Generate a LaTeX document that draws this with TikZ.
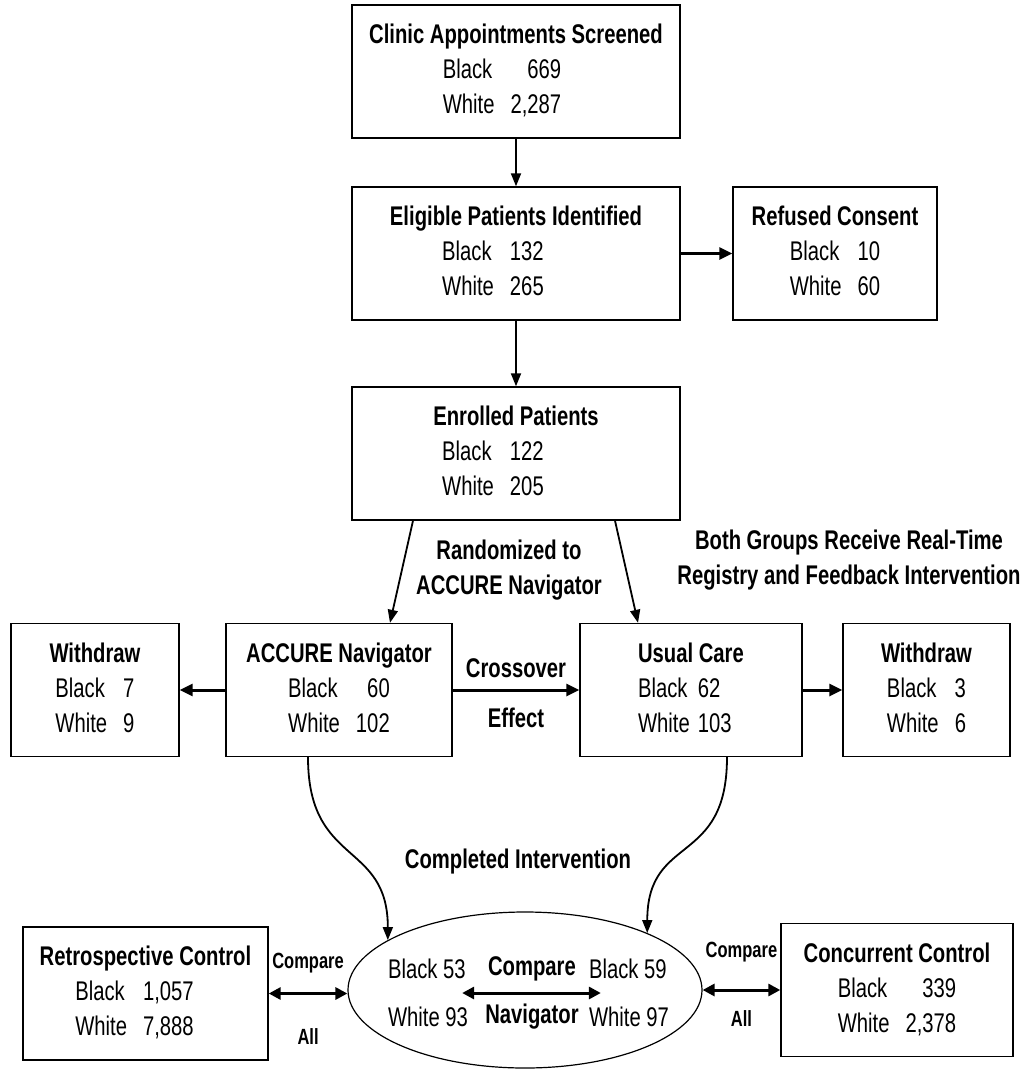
\documentclass[tikz,border=0pt]{standalone}
\usepackage{fontspec}
\setmainfont[FakeStretch=0.75]{Liberation Sans}
\usepackage{tikz}
\usetikzlibrary{arrows.meta,shapes.geometric}
% title line plus a two-row table of counts
\newcommand{\grp}[4][0pt]{\strut\textbf{#2}\\\hspace*{#1}\begin{tabular}[t]{@{}l@{\hspace{16pt}}r@{}}Black & #3\\White & #4\end{tabular}}
\tikzset{
  flowbox/.style={draw, line width=1.4pt, minimum height=133pt, inner sep=0pt,
    align=center, font=\fontsize{27}{35}\selectfont},
  tag/.style={font=\fontsize{27}{35}\selectfont\bfseries, align=center, inner sep=0pt},
  smalltag/.style={font=\fontsize{22}{24}\selectfont\bfseries, inner sep=0pt},
  counts/.style={font=\fontsize{27}{48}\selectfont, align=left, inner sep=0pt},
  flowarrow/.style={line width=1.8pt, -{Triangle[length=13pt,width=10pt]}},
  fatarrow/.style={line width=3pt, -{Triangle[length=13pt,width=12pt]}},
  bothways/.style={line width=3pt, {Triangle[length=12pt,width=12pt]}-{Triangle[length=12pt,width=12pt]}},
}

\begin{document}
\begin{tikzpicture}[x=1pt,y=-1pt]
  \useasboundingbox (0,0) rectangle (1026,1074);
  % screening and enrolment
  \node[flowbox, minimum width=328pt] (scr) at (516,71.5) {\grp[-28pt]{Clinic Appointments Screened}{669}{2,287}};
  \node[flowbox, minimum width=328pt] (elig) at (516,253.5) {\grp[-46pt]{Eligible Patients Identified}{132}{265}};
  \node[flowbox, minimum width=204pt] (refused) at (835,253.5) {\grp{Refused Consent}{10}{60}};
  \node[flowbox, minimum width=328pt] (enrol) at (516,453.5) {\grp[-46pt]{Enrolled Patients}{122}{205}};
  % the two arms
  \node[flowbox, minimum width=168pt] (wdnav) at (95,690) {\grp{Withdraw}{7}{9}};
  \node[flowbox, minimum width=226pt] (nav) at (339,690) {\grp{ACCURE Navigator}{60}{102}};
  \node[flowbox, minimum width=222pt, align=left] (usual) at (691,690)
    {\strut\textbf{Usual Care}\\\begin{tabular}[t]{@{}l@{\hspace{8pt}}l@{}}Black & 62\\White & 103\end{tabular}};
  \node[flowbox, minimum width=167pt] (wdusual) at (926.5,690) {\grp{Withdraw}{3}{6}};
  % comparison row
  \node[flowbox, minimum width=245pt] (retro) at (145.5,993.5) {\grp[-22pt]{Retrospective Control}{1,057}{7,888}};
  \node[flowbox, minimum width=232pt] (conc) at (897,990) {\grp{Concurrent Control}{339}{2,378}};
  \node[draw, ellipse, line width=1.2pt, minimum width=354pt, minimum height=156pt, inner sep=0pt] (done) at (525,990) {};
  \node[counts] (doneL) at (428,993) {Black 53\\White 93};
  \node[tag, font=\fontsize{27}{48}\selectfont\bfseries] (doneM) at (532,993) {Compare\\Navigator};
  \node[counts] (doneR) at (629,993) {Black 59\\White 97};
  % free labels
  \node[tag] (rand) at (509,570) {Randomized to\\ACCURE Navigator};
  \node[tag] (both) at (849,560) {Both Groups Receive Real-Time\\Registry and Feedback Intervention};
  \node[tag] (finish) at (518,862) {Completed Intervention};

  \draw[flowarrow] (scr.south) -- (elig.north);
  \draw[flowarrow] (elig.south) -- (enrol.north);
  \draw[fatarrow] (elig.east) -- (refused.west);
  \draw[flowarrow] ([xshift=-103pt]enrol.south) -- ([xshift=51pt]nav.north);
  \draw[flowarrow] ([xshift=99pt]enrol.south) -- ([xshift=-53pt]usual.north);
  \draw[fatarrow] (nav.west) -- (wdnav.east);
  \draw[fatarrow] (usual.east) -- (wdusual.west);
  \draw[fatarrow] (nav.east) -- (usual.west)
    node[midway, tag, above=11pt] {Crossover}
    node[midway, tag, below=16pt] {Effect};
  \draw[flowarrow] ([xshift=-31pt]nav.south) .. controls +(0,110) and +(0,-100) .. (done.160);
  \draw[flowarrow] ([xshift=36pt]usual.south) .. controls +(0,110) and +(0,-100) .. (done.25);
  \draw[bothways] (retro.east) -- (retro.east -| done.west)
    node[midway, smalltag, above=19pt] {Compare}
    node[midway, smalltag, below=34pt] {All};
  \draw[bothways] (done.east) -- (done.east -| conc.west)
    node[midway, smalltag, above=26pt] {Compare}
    node[midway, smalltag, below=19pt] {All};
  \draw[bothways] ([xshift=-6pt]doneL.east) -- ([xshift=12pt]doneR.west);
\end{tikzpicture}
\end{document}
